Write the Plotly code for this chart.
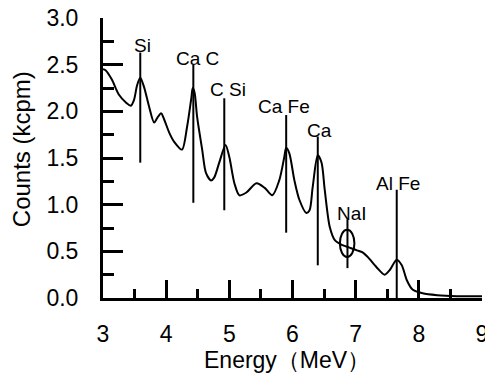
import plotly.graph_objects as go

# Spectrum
energy = [3.00, 3.04, 3.14, 3.25, 3.37, 3.44, 3.49, 3.54, 3.59, 3.65, 3.73, 3.81, 3.86, 3.92,
          3.97, 4.05, 4.13, 4.25, 4.33, 4.40, 4.42, 4.45, 4.49, 4.57, 4.63, 4.71, 4.76, 4.84,
          4.94, 5.00, 5.08, 5.16, 5.27, 5.43, 5.56, 5.68, 5.79, 5.87, 5.90, 5.95, 6.03, 6.11,
          6.22, 6.27, 6.32, 6.40, 6.46, 6.51, 6.59, 6.67, 6.78, 6.90, 7.02, 7.11, 7.19, 7.33,
          7.46, 7.54, 7.65, 7.73, 7.81, 7.90, 8.06, 8.29, 8.60, 8.97, 9.00]
counts = [2.45, 2.44, 2.34, 2.18, 2.09, 2.06, 2.12, 2.28, 2.36, 2.26, 2.05, 1.88, 1.93, 1.98,
          1.91, 1.77, 1.67, 1.59, 1.83, 2.15, 2.25, 2.20, 1.94, 1.59, 1.34, 1.26, 1.29, 1.45,
          1.64, 1.51, 1.23, 1.10, 1.13, 1.23, 1.18, 1.10, 1.26, 1.51, 1.61, 1.55, 1.26, 1.05,
          0.91, 0.94, 1.19, 1.53, 1.45, 1.16, 0.76, 0.62, 0.57, 0.54, 0.51, 0.49, 0.44, 0.33,
          0.25, 0.30, 0.41, 0.35, 0.19, 0.09, 0.05, 0.03, 0.02, 0.02, 0.02]

# Element marker lines
marker_energy = [3.59, 4.43, 4.92, 5.90, 6.40, 6.87, 7.65]
marker_top = [2.63, 2.50, 2.14, 1.96, 1.73, 0.84, 1.16]
marker_bottom = [1.45, 1.02, 0.94, 0.70, 0.35, 0.32, 0.00]
marker_labels = ["Si", "Ca C", "C Si", "Ca Fe", "Ca", "NaI", "Al Fe"]
label_x = [3.62, 4.49, 4.98, 5.86, 6.43, 6.94, 7.67]
label_y = [2.71, 2.57, 2.23, 2.05, 1.80, 0.91, 1.23]

# NaI circle bounds (energy, counts)
circle_x = [6.75, 6.98]
circle_y = [0.44, 0.73]

x_ticks = [3, 4, 5, 6, 7, 8, 9]
y_ticks = [0.0, 0.5, 1.0, 1.5, 2.0, 2.5, 3.0]
y_ticklabels = ["0.0", "0.5", "1.0", "1.5", "2.0", "2.5", "3.0"]

FONT = "Liberation Sans, Arial, sans-serif"

fig = go.Figure()
fig.add_trace(go.Scatter(x=energy, y=counts, mode="lines",
                         line=dict(color="black", width=2, shape="spline", smoothing=0.8),
                         showlegend=False, hoverinfo="skip", cliponaxis=False))

lx, ly = [], []
for e, t, b in zip(marker_energy, marker_top, marker_bottom):
    lx += [e, e, None]
    ly += [b, t, None]
fig.add_trace(go.Scatter(x=lx, y=ly, mode="lines", line=dict(color="black", width=2),
                         showlegend=False, hoverinfo="skip"))

fig.add_shape(type="circle", xref="x", yref="y", x0=circle_x[0], x1=circle_x[1],
              y0=circle_y[0], y1=circle_y[1], line=dict(color="black", width=2))

for t, x, y in zip(marker_labels, label_x, label_y):
    fig.add_annotation(x=x, y=y, text=t, showarrow=False, xref="x", yref="y",
                       font=dict(family=FONT, size=19, color="black"))

fig.add_annotation(x=0.485, y=-0.22, xref="paper", yref="paper", text="Energy（MeV）",
                   xanchor="center", yanchor="middle",
                   showarrow=False, font=dict(family=FONT, size=23, color="black"))
fig.add_annotation(x=-0.216, y=0.532, xref="paper", yref="paper", text="Counts (kcpm)",
                   xanchor="center", yanchor="middle",
                   textangle=-90, showarrow=False, font=dict(family=FONT, size=24, color="black"))

# page body has an 8px margin, so the figure is sized/placed to compensate
fig.update_layout(
    width=485, height=366,
    margin=dict(l=95, r=11, t=10, b=76),
    paper_bgcolor="white", plot_bgcolor="white",
    font=dict(family=FONT, color="black"),
    xaxis=dict(range=[3, 9], tickvals=x_ticks, showgrid=False, zeroline=False, automargin=False,
               showline=True, linewidth=3, linecolor="black", ticklabeloverflow="allow",
               ticks="inside", ticklen=18, tickwidth=3, tickcolor="black",
               tickfont=dict(family=FONT, size=23, color="black"), ticklabelstandoff=13,
               minor=dict(ticks="inside", ticklen=9, tickwidth=3, tickcolor="black", dtick=0.5, showgrid=False)),
    yaxis=dict(range=[0, 3], tickvals=y_ticks, ticktext=y_ticklabels, showgrid=False, zeroline=False,
               automargin=False, ticklabeloverflow="allow",
               showline=True, linewidth=3, linecolor="black",
               ticks="inside", ticklen=20, tickwidth=3, tickcolor="black",
               tickfont=dict(family=FONT, size=23, color="black"), ticklabelstandoff=17,
               minor=dict(ticks="inside", ticklen=11, tickwidth=3, tickcolor="black", dtick=0.25, showgrid=False)),
)

fig.write_html("out.html")
